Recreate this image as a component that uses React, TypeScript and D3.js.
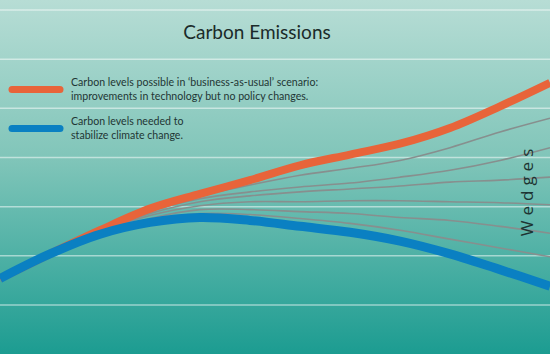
import * as d3 from "d3";
import { useEffect, useRef } from "react";

// x positions (arbitrary time steps, no axis labels shown)
const steps = [0, 1, 2, 3, 4, 5, 6, 7, 8, 9, 10, 11];

// carbon levels (relative units)
const businessAsUsual = [27, 52, 76, 98, 113, 127, 142, 153, 164, 180, 202, 226];
const stabilize = [27, 52, 72, 84, 89, 86, 80, 74, 65, 52, 36, 19];

// wedge paths, top to bottom
const wedge1 = [26, 52, 76, 97, 111, 122, 132, 139, 147, 160, 176, 190];
const wedge2 = [26, 52, 75, 95, 108, 115, 120, 124, 130, 137, 147, 160];
const wedge3 = [26, 52, 74, 93, 105, 111, 115, 118, 121, 125, 127, 130];
const wedge4 = [26, 52, 74, 91, 101, 105, 105, 106, 106, 105, 104, 102];
const wedge5 = [26, 52, 73, 88, 97, 97, 95, 93, 89, 86, 80, 73];
const wedge6 = [26, 52, 73, 86, 93, 92, 88, 83, 76, 67, 58, 49];
const wedges = [wedge1, wedge2, wedge3, wedge4, wedge5, wedge6];

const gridTicks = [0, 50, 100, 150, 200, 250, 300];

const legendItems = [
  {
    color: "#e8643a",
    lines: [
      "Carbon levels possible in \u2018business-as-usual\u2019 scenario:",
      "improvements in technology but no policy changes.",
    ],
  },
  { color: "#0a80c2", lines: ["Carbon levels needed to", "stabilize climate change."] },
];

export default function App() {
  const ref = useRef<SVGSVGElement>(null);

  useEffect(() => {
    if (!ref.current) return;
    const width = 550;
    const height = 354;
    const svg = d3.select(ref.current);
    svg.selectAll("*").remove();
    svg.attr("width", width).attr("height", height);

    const defs = svg.append("defs");
    const grad = defs
      .append("linearGradient")
      .attr("id", "bg")
      .attr("x1", 0)
      .attr("y1", 0)
      .attr("x2", 0)
      .attr("y2", 1);
    grad.append("stop").attr("offset", "0%").attr("stop-color", "#b7ddd5");
    grad.append("stop").attr("offset", "45%").attr("stop-color", "#80c5b9");
    grad.append("stop").attr("offset", "100%").attr("stop-color", "#1c9c91");

    svg.append("rect").attr("width", width).attr("height", height).attr("fill", "url(#bg)");

    const x = d3.scaleLinear().domain([0, 11]).range([0, width]);
    const y = d3.scaleLinear().domain([0, 300]).range([305, 10]);

    svg
      .append("g")
      .selectAll("line")
      .data(gridTicks)
      .join("line")
      .attr("x1", 0)
      .attr("x2", width)
      .attr("y1", (d) => y(d))
      .attr("y2", (d) => y(d))
      .attr("stroke", "#ffffff")
      .attr("stroke-opacity", 0.5)
      .attr("stroke-width", 1.5);

    const line = d3
      .line<number>()
      .x((_, i) => x(steps[i]))
      .y((d) => y(d))
      .curve(d3.curveCatmullRom.alpha(0.5));

    svg
      .append("g")
      .selectAll("path")
      .data(wedges)
      .join("path")
      .attr("d", (d) => line(d))
      .attr("fill", "none")
      .attr("stroke", "#878f8e")
      .attr("stroke-width", 1.6);

    svg
      .append("path")
      .attr("d", line(businessAsUsual))
      .attr("fill", "none")
      .attr("stroke", legendItems[0].color)
      .attr("stroke-width", 8);

    svg
      .append("path")
      .attr("d", line(stabilize))
      .attr("fill", "none")
      .attr("stroke", legendItems[1].color)
      .attr("stroke-width", 9);

    svg
      .append("text")
      .attr("x", 257)
      .attr("y", 39)
      .attr("text-anchor", "middle")
      .style("font-family", "Lato, 'Open Sans', sans-serif")
      .style("font-size", "19px")
      .style("fill", "#1b2b2a")
      .text("Carbon Emissions");

    const legend = svg
      .append("g")
      .selectAll("g")
      .data(legendItems)
      .join("g")
      .attr("transform", (_, i) => `translate(0,${i * 39})`);

    legend
      .append("line")
      .attr("x1", 12)
      .attr("x2", 60)
      .attr("y1", 89.5)
      .attr("y2", 89.5)
      .attr("stroke", (d) => d.color)
      .attr("stroke-width", 7)
      .attr("stroke-linecap", "round");

    legend
      .selectAll("text")
      .data((d) => d.lines)
      .join("text")
      .attr("x", 71)
      .attr("y", (_, i) => 86 + i * 14)
      .style("font-family", "Lato, 'Open Sans', sans-serif")
      .style("font-size", "10.6px")
      .style("fill", "#1f3634")
      .text((d) => d);

    svg
      .append("text")
      .attr("transform", "translate(533,190) rotate(-90)")
      .attr("text-anchor", "middle")
      .style("font-family", "'Open Sans', sans-serif")
      .style("font-size", "17px")
      .style("letter-spacing", "5px")
      .style("fill", "#1d3432")
      .text("Wedges");
  }, []);

  return <svg ref={ref} style={{ position: "absolute", left: 0, top: 0 }} />;
}
